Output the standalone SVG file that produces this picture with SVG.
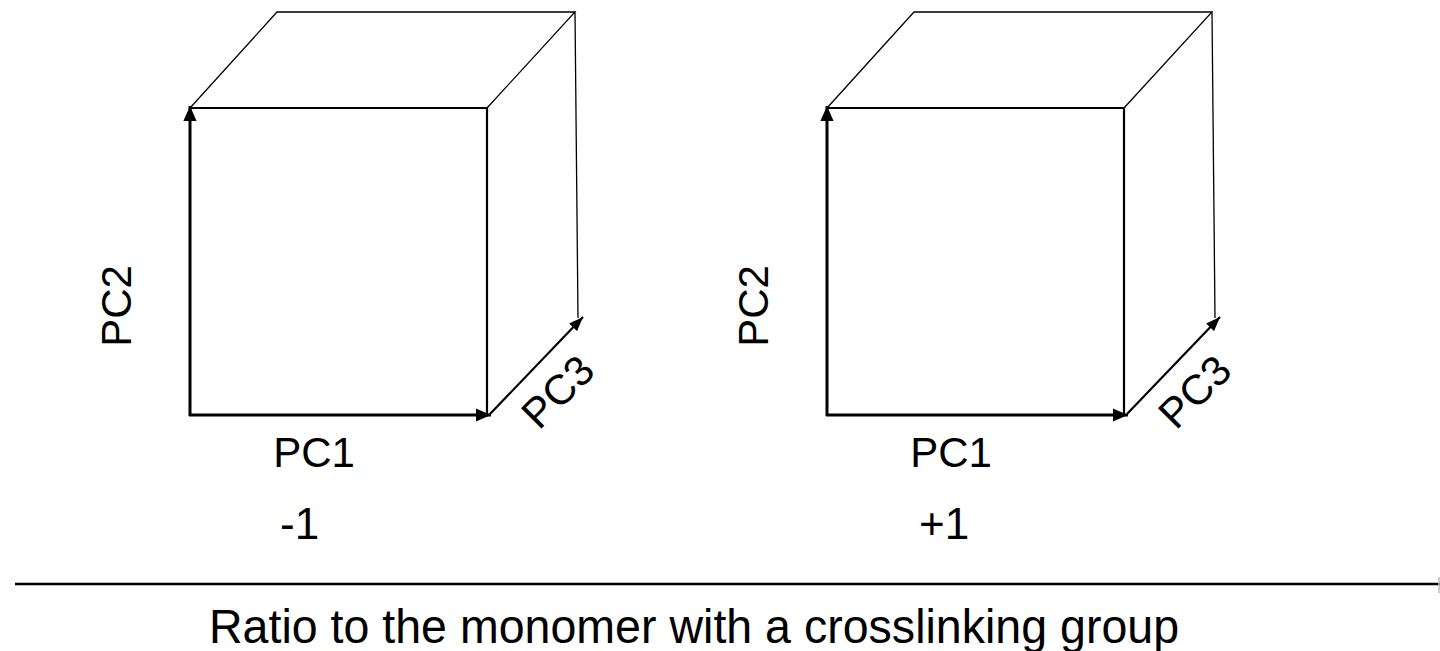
<svg xmlns="http://www.w3.org/2000/svg" width="1440" height="651" viewBox="0 0 1440 651">
  <style>
    .edge { fill: none; stroke: #000; stroke-width: 1.3; }
    .face { fill: none; stroke: #000; stroke-width: 2.2; }
    .axis { fill: none; stroke: #000; stroke-width: 3; }
    .axis3 { fill: none; stroke: #000; stroke-width: 2.2; }
    .lbl { font-family: "Liberation Sans", Arial, sans-serif; font-size: 42px; fill: #000; }
    .sign { font-family: "Liberation Sans", Arial, sans-serif; font-size: 44px; fill: #000; }
    .title { font-family: "Liberation Sans", Arial, sans-serif; font-size: 49px; fill: #000; }
  </style>
  <defs>
    <marker id="head" viewBox="0 0 10 10" refX="10" refY="5" markerWidth="5" markerHeight="4.4" markerUnits="strokeWidth" orient="auto" preserveAspectRatio="none">
      <path d="M0,0 L10,5 L0,10 z" fill="#000"/>
    </marker>
    <marker id="head3" viewBox="0 0 10 10" refX="10" refY="5" markerWidth="6.5" markerHeight="5" markerUnits="strokeWidth" orient="auto" preserveAspectRatio="none">
      <path d="M0,0 L10,5 L0,10 z" fill="#000"/>
    </marker>
    <!-- one cube: receding edges plus the two front-face edges -->
    <g id="cube">
      <path class="edge" d="M190,108 L277,12 L575,12 L487,108 M575,12 L578,318"/>
      <path class="face" d="M190,108 L487,108 L487,415"/>
    </g>
  </defs>

  <g id="cube-minus">
    <use href="#cube"/>
    <text class="lbl" transform="translate(131,306) rotate(-90)" text-anchor="middle">PC2</text>
    <text class="lbl" x="314" y="467" text-anchor="middle">PC1</text>
    <text class="lbl" transform="translate(568,402) rotate(-45)" text-anchor="middle">PC3</text>
    <text class="sign" x="280" y="539">-1</text>
  </g>

  <g id="cube-plus" transform="translate(637,0)">
    <use href="#cube"/>
    <text class="lbl" transform="translate(131,306) rotate(-90)" text-anchor="middle">PC2</text>
    <text class="lbl" x="314" y="467" text-anchor="middle">PC1</text>
    <text class="lbl" transform="translate(568,402) rotate(-45)" text-anchor="middle">PC3</text>
    <text class="sign" x="282" y="539">+1</text>
  </g>

  <g id="connectors">
    <line class="axis" x1="190" y1="416" x2="190" y2="106" marker-end="url(#head)"/>
    <line class="axis" x1="189" y1="415" x2="491" y2="415" marker-end="url(#head)"/>
    <line class="axis3" x1="490" y1="414" x2="583" y2="317" marker-end="url(#head3)"/>
    <line class="axis" x1="827" y1="416" x2="827" y2="106" marker-end="url(#head)"/>
    <line class="axis" x1="826" y1="415" x2="1128" y2="415" marker-end="url(#head)"/>
    <line class="axis3" x1="1127" y1="414" x2="1220" y2="317" marker-end="url(#head3)"/>
    <line x1="15" y1="584" x2="1440" y2="584" stroke="#000" stroke-width="2.5"/>
    <line x1="1439" y1="577" x2="1439" y2="593" stroke="#bbb" stroke-width="1.5"/>
  </g>

  <g id="axis-title">
    <text class="title" transform="translate(694,643) scale(0.95,1)" text-anchor="middle">Ratio to the monomer with a crosslinking group</text>
  </g>
</svg>
